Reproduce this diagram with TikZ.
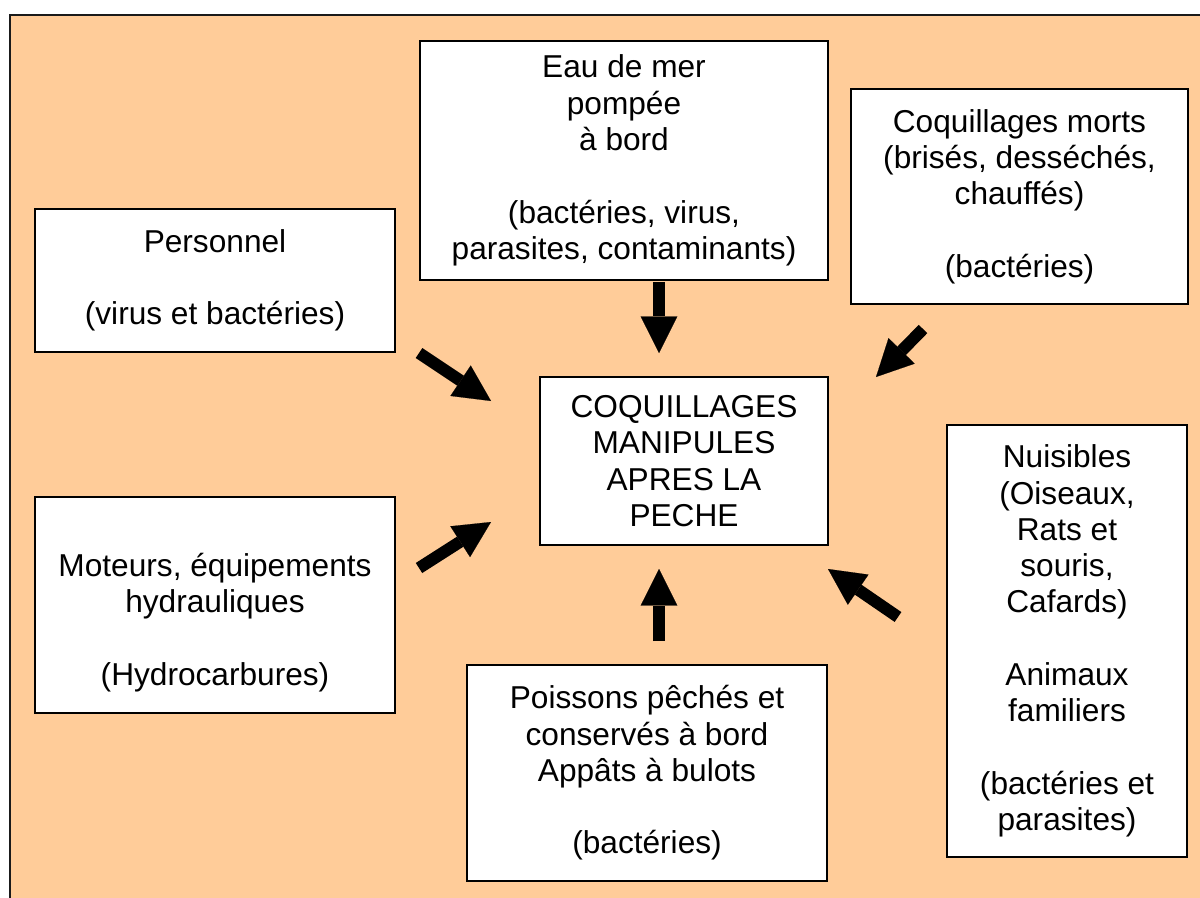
\documentclass[tikz,border=0pt]{standalone}
\usepackage{fontspec}
\setmainfont{Liberation Sans}
\usepackage{xcolor}
\usepackage{tikz}
\usetikzlibrary{arrows.meta}
\definecolor{peach}{HTML}{FFCC99}
\definecolor{frame}{HTML}{1A1A1A}
\tikzset{
  box/.style={draw=black, fill=white, line width=1.4pt, align=center, inner sep=0pt,
    font=\fontsize{22.5pt}{25.8pt}\selectfont},
  flow/.style={line width=8.5pt, -{Triangle[width=26pt,length=26pt,line width=0.1pt]}}
}

\begin{document}
\begin{tikzpicture}[x=0.025cm, y=-0.025cm]
\useasboundingbox (0,0) rectangle (1200,898);
% background
\draw[fill=peach, draw=frame, line width=1.8pt] (10,15) rectangle (1210,910);

% centre
\node[box, minimum width=7.2cm, minimum height=4.2cm] (centre) at (684,461)
  {COQUILLAGES\\MANIPULES\\APRES LA\\PECHE};

% sources
\node[box, minimum width=9cm, minimum height=3.575cm] (pers) at (215,280.5)
  {Personnel\\[25.8pt](virus et bactéries)};
\node[box, minimum width=10.2cm, minimum height=5.975cm] (eau) at (624,160.5)
  {Eau de mer\\pompée\\à bord\\[25.8pt](bactéries, virus,\\parasites, contaminants)};
\node[box, minimum width=8.425cm, minimum height=5.375cm] (morts) at (1019.5,196.5)
  {Coquillages morts\\(brisés, desséchés,\\chauffés)\\[25.8pt](bactéries)};
\node[box, minimum width=9cm, minimum height=5.4cm] (moteurs) at (215,605)
  {\mbox{}\\[16pt]Moteurs, équipements\\hydrauliques\\[25.8pt](Hydrocarbures)};
\node[box, minimum width=9cm, minimum height=5.4cm] (poissons) at (647,773)
  {Poissons pêchés et\\conservés à bord\\Appâts à bulots\\[25.8pt](bactéries)};
\node[box, minimum width=6cm, minimum height=10.8cm] (nuis) at (1067,641)
  {Nuisibles\\(Oiseaux,\\Rats et\\souris,\\Cafards)\\[25.8pt]Animaux\\familiers\\[25.8pt](bactéries et\\parasites)};

% arrows
\coordinate (pers-a) at (419,353);   \coordinate (pers-b) at (491,401);
\coordinate (eau-a) at (659,282);    \coordinate (eau-b) at (659,353);
\coordinate (morts-a) at (923,329);  \coordinate (morts-b) at (876,377);
\coordinate (mot-a) at (419,568);    \coordinate (mot-b) at (491,522);
\coordinate (pois-a) at (659,641);   \coordinate (pois-b) at (659,569);
\coordinate (nuis-a) at (898,617);   \coordinate (nuis-b) at (828,569);
\draw[flow] (pers-a) -- (pers-b);
\draw[flow] (eau-a) -- (eau-b);
\draw[flow] (morts-a) -- (morts-b);
\draw[flow] (mot-a) -- (mot-b);
\draw[flow] (pois-a) -- (pois-b);
\draw[flow] (nuis-a) -- (nuis-b);
\end{tikzpicture}
\end{document}
